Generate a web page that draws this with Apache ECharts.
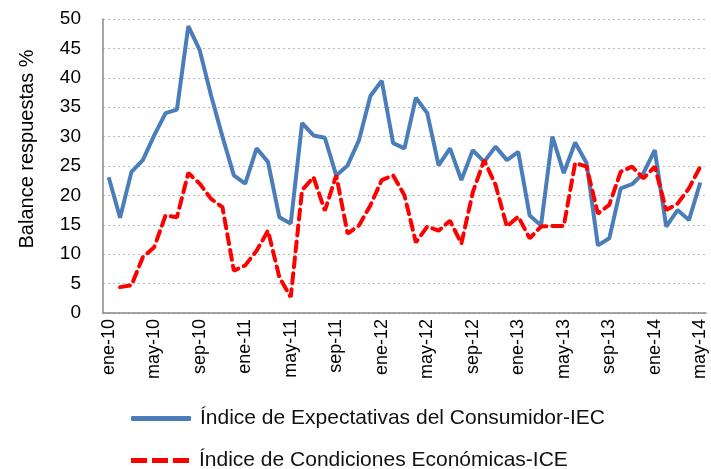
<!DOCTYPE html>
<html>
<head>
<meta charset="utf-8">
<script src="https://cdn.jsdelivr.net/npm/echarts@6/dist/echarts.min.js"></script>
<style>
  html, body { margin: 0; padding: 0; background: #fff; }
  #chart { width: 711px; height: 469px; }
</style>
</head>
<body>
<div id="chart"></div>
<script>
// meses ene-10 .. may-14
const meses = [
  'ene-10','feb-10','mar-10','abr-10','may-10','jun-10','jul-10','ago-10','sep-10','oct-10','nov-10','dic-10',
  'ene-11','feb-11','mar-11','abr-11','may-11','jun-11','jul-11','ago-11','sep-11','oct-11','nov-11','dic-11',
  'ene-12','feb-12','mar-12','abr-12','may-12','jun-12','jul-12','ago-12','sep-12','oct-12','nov-12','dic-12',
  'ene-13','feb-13','mar-13','abr-13','may-13','jun-13','jul-13','ago-13','sep-13','oct-13','nov-13','dic-13',
  'ene-14','feb-14','mar-14','abr-14','may-14'
];

const iec = [
  23.1, 16.2, 24.0, 26.0, 30.2, 34.0, 34.6, 48.8, 44.7, 37.0, 30.0, 23.4,
  22.0, 28.0, 25.7, 16.3, 15.2, 32.3, 30.2, 29.8, 23.4, 25.1, 29.4, 36.9,
  39.5, 28.9, 28.0, 36.6, 34.0, 25.1, 28.0, 22.6, 27.7, 25.7, 28.3, 26.0,
  27.4, 16.6, 14.9, 30.0, 23.8, 29.0, 25.5, 11.5, 12.7, 21.2, 21.9, 23.8,
  27.7, 14.7, 17.5, 15.8, 22.2
];

const ice = [
  null, 4.4, 4.7, 9.5, 11.2, 16.6, 16.3, 23.8, 22.0, 19.4, 18.0, 7.2,
  8.1, 10.6, 14.0, 6.1, 2.7, 20.9, 23.1, 17.4, 23.4, 13.5, 14.9, 18.3,
  22.6, 23.4, 20.0, 12.0, 14.7, 14.0, 15.7, 11.8, 20.5, 26.0, 21.8, 14.7,
  16.4, 12.7, 14.7, 14.8, 14.8, 25.5, 24.9, 16.9, 18.4, 24.0, 24.9, 22.9,
  24.9, 17.5, 18.6, 21.2, 24.9
];

const nombreIEC = 'Índice de Expectativas del Consumidor-IEC';
const nombreICE = 'Índice de Condiciones Económicas-ICE';
const fuente = 'Liberation Sans';

// leyenda en dos filas, una por serie
const estiloLeyenda = {
  orient: 'vertical',
  left: 131,
  padding: 0,
  itemWidth: 60,
  itemHeight: 5,
  textStyle: { fontSize: 21, color: '#111', fontFamily: fuente, padding: [0, 0, 0, 4] }
};

const chart = echarts.init(document.getElementById('chart'));
chart.setOption({
  animation: false,
  textStyle: { fontFamily: fuente },
  grid: { left: 103, right: 5, top: 19, bottom: 156, containLabel: false },
  legend: [
    Object.assign({}, estiloLeyenda, {
      top: 408,
      data: [{ name: nombreIEC, icon: 'roundRect' }]
    }),
    Object.assign({}, estiloLeyenda, {
      top: 450,
      data: [{ name: nombreICE, icon: 'path://M0,0h16v5h-16z M21,0h16v5h-16z M42,0h16v5h-16z' }]
    })
  ],
  xAxis: {
    type: 'category',
    data: meses,
    boundaryGap: true,
    axisLine: { lineStyle: { color: '#888', width: 1.5 } },
    axisTick: { show: false },
    axisLabel: {
      interval: 3,
      rotate: 90,
      fontSize: 18,
      color: '#000',
      margin: 6
    },
    splitLine: { show: false }
  },
  yAxis: {
    type: 'value',
    min: 0,
    max: 50,
    interval: 5,
    name: 'Balance respuestas %',
    nameLocation: 'middle',
    nameGap: 66,
    nameRotate: 90,
    nameTextStyle: { fontSize: 20, color: '#000', padding: [0, 0, 0, 34] },
    axisLine: { show: true, lineStyle: { color: '#888', width: 1.5 } },
    axisTick: { show: false },
    axisLabel: { fontSize: 19, color: '#000', margin: 22 },
    splitLine: { lineStyle: { color: '#b8b8b8', type: [2, 3], width: 1 } }
  },
  series: [
    {
      name: nombreIEC,
      type: 'line',
      data: iec,
      symbol: 'none',
      lineStyle: { color: '#4a7ebb', width: 4 },
      itemStyle: { color: '#4a7ebb' }
    },
    {
      name: nombreICE,
      type: 'line',
      data: ice,
      symbol: 'none',
      connectNulls: false,
      lineStyle: { color: '#ff0000', width: 4, type: [10, 6], cap: 'round' },
      itemStyle: { color: '#ff0000' }
    }
  ]
});
window.addEventListener('resize', function () {
  chart.resize();
});
</script>
</body>
</html>
